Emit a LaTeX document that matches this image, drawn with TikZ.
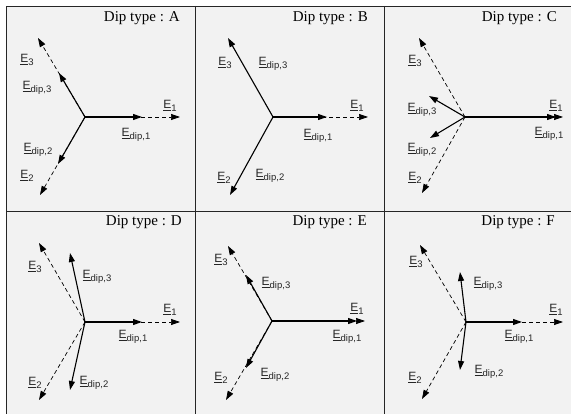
\documentclass[tikz,border=0pt]{standalone}
\usepackage{fontspec}
\setmainfont{Liberation Serif}
\newfontfamily\labsans{Liberation Sans}
\usetikzlibrary{arrows.meta}
\newcommand\labfont{\labsans\fontsize{12}{14}\selectfont}
\newcommand\ttlfont{\rmfamily\fontsize{15}{17}\selectfont}
\newcommand\Ev[1]{\underline{E}\raisebox{-3pt}{\fontsize{9.5}{10}\selectfont #1}}
\tikzset{
  solidvec/.style={line width=1.1pt, black, -{Triangle[length=9pt,width=6pt]}},
  dashvec/.style={line width=0.7pt, black, dash pattern=on 4pt off 3pt, -{Triangle[length=9pt,width=6pt]}},
  lab/.style={inner sep=0pt, font=\labfont, text=black!85},
  ttl/.style={inner sep=0pt, anchor=base east, font=\ttlfont},
  frame/.style={line width=0.9pt, black!85},
}
\begin{document}
\begin{tikzpicture}[x=1pt,y=-1pt]
\useasboundingbox (0,0) rectangle (571,414);
\fill[white] (0,0) rectangle (571,414);
\fill[black!5] (6.5,6) rectangle (571,414);
% frame
\draw[frame] (6.5,414) -- (6.5,6) -- (571,6);
\draw[frame] (6.5,211) -- (571,211);
\draw[frame] (195.5,6) -- (195.5,414);
\draw[frame] (384.5,6) -- (384.5,414);

% ---------- Panel A ----------
\node[ttl] (A-t) at (180,22) {Dip type : A};
\coordinate (A-o) at (85,117);
\coordinate (A-e1) at (180,117); \coordinate (A-d1) at (142,117);
\coordinate (A-e3) at (38,38);   \coordinate (A-d3) at (59,73);
\coordinate (A-e2) at (40,195);  \coordinate (A-d2) at (58,164);
\draw[dashvec] (A-o) -- (A-e1);
\draw[dashvec] (A-o) -- (A-e3);
\draw[dashvec] (A-o) -- (A-e2);
\draw[solidvec] (A-o) -- (A-d1);
\draw[solidvec] (A-o) -- (A-d3);
\draw[solidvec] (A-o) -- (A-d2);
\node[lab] (A-l3) at (27,60) {\Ev{3}};
\node[lab] (A-ld3) at (37,88) {\Ev{dip,3}};
\node[lab] (A-l1) at (170,106) {\Ev{1}};
\node[lab] (A-ld1) at (136,135) {\Ev{dip,1}};
\node[lab] (A-ld2) at (38,150) {\Ev{dip,2}};
\node[lab] (A-l2) at (27,176) {\Ev{2}};

% ---------- Panel B ----------
\node[ttl] (B-t) at (368,22) {Dip type : B};
\coordinate (B-o) at (273,117);
\coordinate (B-e1) at (368,117); \coordinate (B-d1) at (327,117);
\coordinate (B-e3) at (228,38);  \coordinate (B-d3) at (228,38);
\coordinate (B-e2) at (230,195); \coordinate (B-d2) at (230,195);
\draw[dashvec] (B-o) -- (B-e1);
\draw[solidvec] (B-o) -- (B-d1);
\draw[solidvec] (B-o) -- (B-d3);
\draw[solidvec] (B-o) -- (B-d2);
\node[lab] (B-l3) at (225,63) {\Ev{3}};
\node[lab] (B-ld3) at (273,64) {\Ev{dip,3}};
\node[lab] (B-l1) at (357,106) {\Ev{1}};
\node[lab] (B-ld1) at (318,136) {\Ev{dip,1}};
\node[lab] (B-ld2) at (270,176) {\Ev{dip,2}};
\node[lab] (B-l2) at (224,178) {\Ev{2}};

% ---------- Panel C ----------
\node[ttl] (C-t) at (557,22) {Dip type : C};
\coordinate (C-o) at (465,117);
\coordinate (C-e1) at (563,117); \coordinate (C-d1) at (556,117);
\coordinate (C-e3) at (419,38);  \coordinate (C-d3) at (429,96);
\coordinate (C-e2) at (422,193); \coordinate (C-d2) at (430,138);
\draw[dashvec] (C-o) -- (C-e1);
\draw[dashvec] (C-o) -- (C-e3);
\draw[dashvec] (C-o) -- (C-e2);
\draw[solidvec] (C-o) -- (C-d1);
\draw[solidvec] (C-o) -- (C-d3);
\draw[solidvec] (C-o) -- (C-d2);
\node[lab] (C-l3) at (415,61) {\Ev{3}};
\node[lab] (C-ld3) at (422,110) {\Ev{dip,3}};
\node[lab] (C-l1) at (556,106) {\Ev{1}};
\node[lab] (C-ld1) at (549,134) {\Ev{dip,1}};
\node[lab] (C-ld2) at (422,150) {\Ev{dip,2}};
\node[lab] (C-l2) at (415,178) {\Ev{2}};

% ---------- Panel D ----------
\node[ttl] (D-t) at (182,226) {Dip type : D};
\coordinate (D-o) at (85,322);
\coordinate (D-e1) at (180,322); \coordinate (D-d1) at (142,322);
\coordinate (D-e3) at (39,243);  \coordinate (D-d3) at (70,253);
\coordinate (D-e2) at (39,400);  \coordinate (D-d2) at (70,390);
\draw[dashvec] (D-o) -- (D-e1);
\draw[dashvec] (D-o) -- (D-e3);
\draw[dashvec] (D-o) -- (D-e2);
\draw[solidvec] (D-o) -- (D-d1);
\draw[solidvec] (D-o) -- (D-d3);
\draw[solidvec] (D-o) -- (D-d2);
\node[lab] (D-l3) at (35,267) {\Ev{3}};
\node[lab] (D-ld3) at (97,277) {\Ev{dip,3}};
\node[lab] (D-l1) at (170,310) {\Ev{1}};
\node[lab] (D-ld1) at (133,337) {\Ev{dip,1}};
\node[lab] (D-ld2) at (94,383) {\Ev{dip,2}};
\node[lab] (D-l2) at (35,383) {\Ev{2}};

% ---------- Panel E ----------
\node[ttl] (E-t) at (367,226) {Dip type : E};
\coordinate (E-o) at (272,321);
\coordinate (E-e1) at (365,321); \coordinate (E-d1) at (357,321);
\coordinate (E-e3) at (228,246); \coordinate (E-d3) at (246,275);
\coordinate (E-e2) at (226,400); \coordinate (E-d2) at (246,368);
\draw[dashvec] (E-o) -- (E-e1);
\draw[dashvec] (E-o) -- (E-e3);
\draw[dashvec] (E-o) -- (E-e2);
\draw[solidvec] (E-o) -- (E-d1);
\draw[solidvec] (E-o) -- (E-d3);
\draw[solidvec] (E-o) -- (E-d2);
\node[lab] (E-l3) at (221,260) {\Ev{3}};
\node[lab] (E-ld3) at (276,284) {\Ev{dip,3}};
\node[lab] (E-l1) at (357,309) {\Ev{1}};
\node[lab] (E-ld1) at (347,337) {\Ev{dip,1}};
\node[lab] (E-ld2) at (275,375) {\Ev{dip,2}};
\node[lab] (E-l2) at (221,378) {\Ev{2}};

% ---------- Panel F ----------
\node[ttl] (F-t) at (555,226) {Dip type : F};
\coordinate (F-o) at (466,322);
\coordinate (F-e1) at (563,322); \coordinate (F-d1) at (522,322);
\coordinate (F-e3) at (420,245); \coordinate (F-d3) at (460,272);
\coordinate (F-e2) at (422,399); \coordinate (F-d2) at (460,370);
\draw[dashvec] (F-o) -- (F-e1);
\draw[dashvec] (F-o) -- (F-e3);
\draw[dashvec] (F-o) -- (F-e2);
\draw[solidvec] (F-o) -- (F-d1);
\draw[solidvec] (F-o) -- (F-d3);
\draw[solidvec] (F-o) -- (F-d2);
\node[lab] (F-l3) at (416,262) {\Ev{3}};
\node[lab] (F-ld3) at (488,284) {\Ev{dip,3}};
\node[lab] (F-l1) at (556,310) {\Ev{1}};
\node[lab] (F-ld1) at (519,337) {\Ev{dip,1}};
\node[lab] (F-ld2) at (489,372) {\Ev{dip,2}};
\node[lab] (F-l2) at (415,378) {\Ev{2}};
\end{tikzpicture}
\end{document}
